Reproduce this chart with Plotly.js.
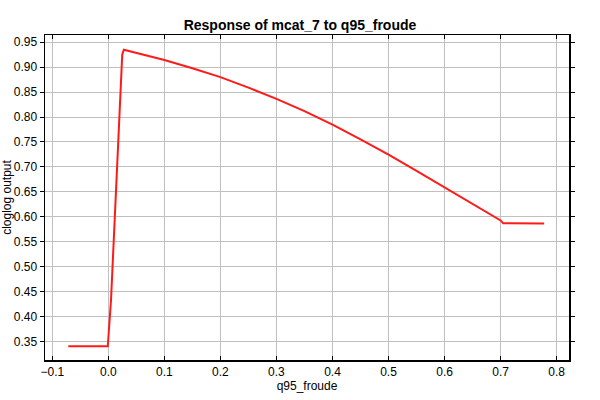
<!DOCTYPE html>
<html><head><meta charset="utf-8">
<script src="https://cdn.plot.ly/plotly-3.0.1.min.js"></script>
<style>body{margin:0;background:#fff}#c{width:600px;height:400px}</style>
</head><body><div id="c"></div>
<script>
const xVals = [-0.0714, -0.03, -0.001, 0.0048, 0.012, 0.020, 0.023, 0.0248, 0.0277, 0.05, 0.1, 0.15, 0.2, 0.25, 0.3, 0.35, 0.4, 0.45, 0.5, 0.55, 0.6, 0.65, 0.7, 0.7045, 0.74, 0.7777];
const yVals = [0.340, 0.340, 0.340, 0.433, 0.60, 0.785, 0.885, 0.925, 0.935, 0.929, 0.9146, 0.898, 0.880, 0.859, 0.8365, 0.812, 0.7846, 0.755, 0.7246, 0.692, 0.6592, 0.626, 0.5926, 0.5868, 0.5866, 0.5866];
const titleText = "Response of mcat_7 to q95_froude";
const xTitle = "q95_froude";
const yTitle = "cloglog output";

const font = {family: "Liberation Sans, Arial, sans-serif", size: 12, color: "#000"};
Plotly.newPlot("c", [{
  x: xVals, y: yVals, type: "scatter", mode: "lines",
  line: {color: "#ff1a1a", width: 2}
}], {
  width: 600, height: 400,
  margin: {l: 45, r: 31, t: 35, b: 40},
  paper_bgcolor: "#fff", plot_bgcolor: "#fff",
  font: font,
  showlegend: false,
  title: {text: "<b>" + titleText + "</b>", font: {family: font.family, size: 14, color: "#000"}, x: 0.5, xanchor: "center", y: 0.9375, yanchor: "middle"},
  xaxis: {
    range: [-0.1130, 0.8220], dtick: 0.1, tick0: 0, tickformat: ".1f",
    showgrid: true, gridcolor: "#c0c0c0", gridwidth: 1,
    showline: true, linecolor: "#000", linewidth: 1.5, mirror: "ticks",
    ticks: "inside", ticklen: 4, tickcolor: "#000",
    zeroline: false,
    title: {text: xTitle, font: font, standoff: 2}
  },
  yaxis: {
    range: [0.3126, 0.9646], dtick: 0.05, tick0: 0, tickformat: ".2f",
    showgrid: true, gridcolor: "#c0c0c0", gridwidth: 1,
    showline: true, linecolor: "#000", linewidth: 1.5, mirror: "ticks",
    ticks: "outside", ticklen: 4, tickcolor: "#000",
    zeroline: false,
    title: {text: yTitle, font: font, standoff: 4}
  }
}, {staticPlot: true, displayModeBar: false});
</script></body></html>
